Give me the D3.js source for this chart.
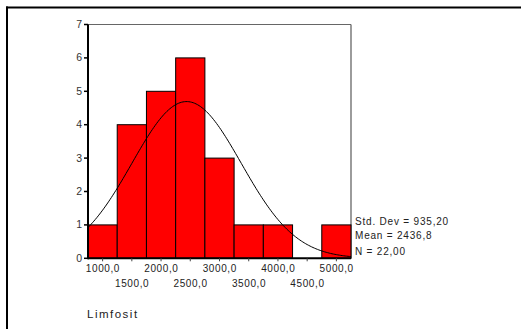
<!DOCTYPE html>
<html>
<head>
<meta charset="utf-8">
<script src="https://d3js.org/d3.v7.min.js"></script>
<style>
  body { margin: 0; background: white; }
  text { font-family: "Liberation Sans", Arial, sans-serif; fill: #222; }
</style>
</head>
<body>
<script>
var w = 521, h = 329;

// histogram data (bin midpoints, counts)
var binMids = [1000, 1500, 2000, 2500, 3000, 3500, 4000, 4500, 5000];
var counts  = [1, 4, 5, 6, 3, 1, 1, 0, 1];
var binWidth = 500;
var yTicks = [0, 1, 2, 3, 4, 5, 6, 7];
var statLabels = ["Std. Dev = 935,20", "Mean = 2436,8", "N = 22,00"];
var mean = 2436.8, sd = 935.2, n = 22;

var svg = d3.select("body").append("svg")
  .attr("width", w).attr("height", h);

// outer frame (top + left only)
svg.append("line").attr("x1", 6).attr("x2", w).attr("y1", 7.5).attr("y2", 7.5)
  .attr("stroke", "black").attr("stroke-width", 2);
svg.append("line").attr("x1", 7).attr("x2", 7).attr("y1", 6.5).attr("y2", h)
  .attr("stroke", "black").attr("stroke-width", 2);

var x = d3.scaleLinear().domain([750, 5250]).range([88, 351]);
var y = d3.scaleLinear().domain([0, 7]).range([258.3, 24.5]);

// plot frame (grey top and right)
svg.append("line").attr("x1", x(750)).attr("x2", x(5250)).attr("y1", y(7)).attr("y2", y(7))
  .attr("stroke", "#666").attr("stroke-width", 1);
svg.append("line").attr("x1", x(5250)).attr("x2", x(5250)).attr("y1", y(7)).attr("y2", y(0))
  .attr("stroke", "#666").attr("stroke-width", 1.3);

// bars
svg.selectAll("rect.bar")
  .data(binMids)
  .enter()
  .append("rect")
  .attr("class", "bar")
  .attr("x", function(d) { return x(d - binWidth / 2); })
  .attr("width", function(d) { return x(d + binWidth / 2) - x(d - binWidth / 2); })
  .attr("y", function(d, i) { return y(counts[i]); })
  .attr("height", function(d, i) { return y(0) - y(counts[i]); })
  .attr("fill", "red")
  .attr("stroke", "black")
  .attr("stroke-width", 1)
  .style("display", function(d, i) { return counts[i] > 0 ? null : "none"; });

// fitted normal curve from mean / sd / N
var curvePts = d3.range(750, 5251, 25).map(function(v) {
  var z = (v - mean) / sd;
  return [v, n * binWidth / (sd * Math.sqrt(2 * Math.PI)) * Math.exp(-0.5 * z * z)];
});
svg.append("path")
  .datum(curvePts)
  .attr("d", d3.line().x(function(d) { return x(d[0]); }).y(function(d) { return y(d[1]); }))
  .attr("fill", "none").attr("stroke", "black").attr("stroke-width", 1);

// y axis
svg.append("line").attr("x1", x(750)).attr("x2", x(750)).attr("y1", y(7)).attr("y2", y(0) + 1)
  .attr("stroke", "black").attr("stroke-width", 2);
svg.selectAll("line.ytick").data(yTicks).enter().append("line")
  .attr("x1", 84).attr("x2", 88).attr("y1", function(d) { return y(d); }).attr("y2", function(d) { return y(d); })
  .attr("stroke", "black").attr("stroke-width", 1.5);
svg.selectAll("text.ylab").data(yTicks).enter().append("text")
  .attr("x", 82).attr("y", function(d) { return y(d) + 3.5; })
  .attr("text-anchor", "end").style("font-size", "10.5px")
  .style("fill", "#333").text(function(d) { return d; });

// x axis
svg.append("line").attr("x1", x(750)).attr("x2", x(5250)).attr("y1", y(0)).attr("y2", y(0))
  .attr("stroke", "black").attr("stroke-width", 2);
svg.selectAll("line.xtick").data(binMids).enter().append("line")
  .attr("x1", function(d) { return x(d); }).attr("x2", function(d) { return x(d); })
  .attr("y1", y(0)).attr("y2", y(0) + 3)
  .attr("stroke", "#444").attr("stroke-width", 1);
svg.selectAll("text.xlab").data(binMids).enter().append("text")
  .attr("x", function(d) { return x(d) + 0.3; })
  .attr("y", function(d, i) { return i % 2 === 0 ? 271.7 : 286.7; })
  .attr("text-anchor", "middle").style("font-size", "10px").style("letter-spacing", "0.6px")
  .text(function(d) { return d3.format(".1f")(d).replace(".", ","); });

// stats
svg.selectAll("text.stat").data(statLabels).enter().append("text")
  .attr("x", 355).attr("y", function(d, i) { return [225, 239, 255][i]; })
  .style("font-size", "10px").style("letter-spacing", "0.8px").text(function(d) { return d; });

// axis title
svg.append("text").attr("x", 87).attr("y", 317.7)
  .style("font-size", "11.5px").style("letter-spacing", "1.5px").text("Limfosit");
</script>
</body>
</html>
